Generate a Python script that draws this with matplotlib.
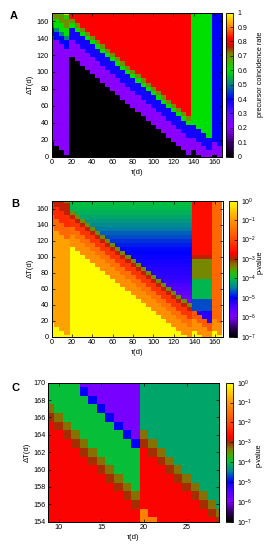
import numpy as np
import matplotlib
matplotlib.use('Agg')
import matplotlib.pyplot as plt
from matplotlib.colors import LinearSegmentedColormap, Normalize

plt.rcParams['font.family'] = ['Liberation Sans', 'DejaVu Sans']
plt.rcParams['mathtext.fontset'] = 'custom'
plt.rcParams['mathtext.rm'] = 'Liberation Sans'
plt.rcParams['mathtext.it'] = 'Liberation Sans:italic'
plt.rcParams['font.size'] = 5.2

# ---------------- data ----------------
# grid of panels A and B (cell centres, days)
tau_AB = list(range(0, 170, 5))
dT_AB = list(range(0, 175, 5))
# column groups (tau values)
grp_L = [0, 5, 10, 15]
grp_M = list(range(20, 140, 5))
grp_G = [140, 145, 150, 155]
grp_B = [160, 165]

# Panel A: precursor coincidence rate along diagonals s = tau + dT
A_L_diag = [15, 140, 150, 155, 165, 175, 180, 999]
A_L_rate = [0.0, 0.20, 0.40, 0.50, 0.60, 0.70, 0.62, 0.95]
A_M_diag = [135, 155, 170, 175, 180, 999]
A_M_rate = [0.0, 0.20, 0.38, 0.60, 0.70, 0.82]
A_M_top_rate = 0.76
A_G_diag = [145, 160, 175, 999]
A_G_rate = [0.0, 0.20, 0.38, 0.60]
A_B_diag = [160, 175, 999]
A_B_rate = [0.0, 0.20, 0.40]

# Panel B: log10 p-value along diagonals; above last diagonal -> by dT row
B_L_diag = [15, 135, 150, 165, 180, 999]
B_L_logp = [-0.05, -0.9, -1.6, -2.3, -2.9, -3.4]
B_M_diag = [130, 145, 155, 165, 170, 175]
B_M_logp = [-0.05, -1.1, -1.5, -2.2, -2.9, -3.4]
B_M_upper_logp = [-6.3, -6.3, -6.3, -6.3, -6.3, -6.3, -6.3, -6.3,
                  -6.1, -5.9, -5.75, -5.65, -5.55, -5.45, -5.35, -5.3,
                  -5.25, -5.2, -5.15, -5.1, -5.05, -5.0, -4.95, -4.88,
                  -4.8, -4.7, -4.6, -4.5, -4.4, -4.3, -4.2, -4.12,
                  -4.05, -4.0, -3.95]
B_G_diag = [145, 160, 170]
B_G_logp = [-0.05, -1.1, -1.8]
B_G_upper_logp = [-5.5, -5.5, -5.5, -5.5, -5.2, -5.2, -5.2, -4.7,
                  -4.7, -4.7, -4.05, -4.05, -4.05, -4.05, -4.05, -3.4,
                  -3.4, -3.4, -3.4, -3.4, -2.9, -2.6, -2.6, -2.6,
                  -2.6, -2.6, -2.6, -2.6, -2.6, -2.6, -2.6, -2.6,
                  -2.6, -2.6, -2.6]
B_B_diag = [165, 180, 999]
B_B_logp = [-0.05, -1.1, -1.6]

# Panel C: zoomed region (1-day cells)
tau_C = list(range(9, 30))
dT_C = list(range(154, 171))
C_split_tau = 20
C_purple_from_tau = 13
C_left_diag = [174, 175, 176, 181, 182]
C_left_logp = [-2.75, -3.0, -3.3, -3.95, -5.0]
C_left_upper_logp = -5.9
C_left_green_logp = -3.95
C_right_diag = [182, 183, 184]
C_right_logp = [-2.75, -3.0, -3.3]
C_right_upper_logp = -4.2
C_orange_cells = [(20, 154), (20, 155), (21, 154)]
C_orange_logp = -1.3

cbar_A_ticks = [0, 0.1, 0.2, 0.3, 0.4, 0.5, 0.6, 0.7, 0.8, 0.9, 1]
cbar_P_ticks = [-7, -6, -5, -4, -3, -2, -1, 0]

# ---------------- colormaps ----------------
cmap_A = LinearSegmentedColormap.from_list('rateA', [
    (0.00, '#000000'), (0.10, '#3a0070'), (0.20, '#8a00ff'), (0.30, '#5a10ff'),
    (0.40, '#0000ff'), (0.50, '#00808a'), (0.60, '#00e000'), (0.68, '#60a000'),
    (0.72, '#808000'), (0.76, '#b02000'), (0.82, '#ff0000'), (0.90, '#ff8000'),
    (1.00, '#ffff00')])
cmap_P = LinearSegmentedColormap.from_list('pval', [
    (0.000, '#000000'), (0.070, '#300060'), (0.143, '#8000ff'), (0.215, '#5000ff'),
    (0.286, '#0000ff'), (0.360, '#0080a0'), (0.430, '#00c040'), (0.480, '#40b000'),
    (0.520, '#808000'), (0.571, '#a03000'), (0.610, '#ff0000'), (0.714, '#ff4800'),
    (0.857, '#ff9500'), (1.000, '#ffff00')])


def band(diag, vals, s):
    for d, v in zip(diag, vals):
        if s <= d:
            return v
    return None


def build_A():
    Z = np.zeros((len(dT_AB), len(tau_AB)))
    for j, dt in enumerate(dT_AB):
        for i, t in enumerate(tau_AB):
            s = t + dt
            if t in grp_L:
                v = band(A_L_diag, A_L_rate, s)
            elif t in grp_M:
                v = A_M_top_rate if dt == dT_AB[-1] else band(A_M_diag, A_M_rate, s)
            elif t in grp_G:
                v = band(A_G_diag, A_G_rate, s)
            else:
                v = band(A_B_diag, A_B_rate, s)
            Z[j, i] = v
    return Z


def build_B():
    Z = np.zeros((len(dT_AB), len(tau_AB)))
    for j, dt in enumerate(dT_AB):
        for i, t in enumerate(tau_AB):
            s = t + dt
            if t in grp_L:
                v = band(B_L_diag, B_L_logp, s)
            elif t in grp_M:
                v = band(B_M_diag, B_M_logp, s)
                if v is None:
                    v = B_M_upper_logp[j]
            elif t in grp_G:
                v = band(B_G_diag, B_G_logp, s)
                if v is None:
                    v = B_G_upper_logp[j]
            else:
                v = band(B_B_diag, B_B_logp, s)
            Z[j, i] = v
    return Z


def build_C():
    Z = np.zeros((len(dT_C), len(tau_C)))
    for j, dt in enumerate(dT_C):
        for i, t in enumerate(tau_C):
            s = t + dt
            if t < C_split_tau:
                v = band(C_left_diag, C_left_logp, s)
                if v is None:
                    v = C_left_upper_logp if t >= C_purple_from_tau else C_left_green_logp
                elif s > C_left_diag[2] and t < C_purple_from_tau:
                    v = C_left_green_logp
            else:
                v = band(C_right_diag, C_right_logp, s)
                if v is None:
                    v = C_right_upper_logp
            if (t, dt) in C_orange_cells:
                v = C_orange_logp
            Z[j, i] = v
    return Z


def edges(c):
    c = np.asarray(c, float)
    h = (c[1] - c[0]) / 2.0
    return np.append(c - h, c[-1] + h)


W, H = 270.0, 550.0


def rect(l, r, t, b):
    return [l / W, 1 - b / H, (r - l) / W, (b - t) / H]


fig = plt.figure(figsize=(2.7, 5.5), dpi=100)

panels = [
    dict(name='A', Z=build_A(), x=tau_AB, y=dT_AB, cmap=cmap_A, norm=Normalize(0, 1),
         ax=rect(51.7, 221.7, 12.7, 156.7), cax=rect(226, 233.3, 12.7, 156.7),
         xlim=(0, 167.5), ylim=(0, 170), xt=list(range(0, 161, 20)), yt=list(range(0, 161, 20)),
         lab='precursor coincidence rate', labx=4.3, laby=0.57, letter=(10, 16)),
    dict(name='B', Z=build_B(), x=tau_AB, y=dT_AB, cmap=cmap_P, norm=Normalize(-7, 0),
         ax=rect(51.7, 222.7, 200.7, 336.7), cax=rect(229.3, 236.7, 200.7, 336.7),
         xlim=(0, 168), ylim=(0, 170), xt=list(range(0, 161, 20)), yt=list(range(0, 161, 20)),
         lab='p-value', labx=3.7, laby=0.55, letter=(11, 204)),
    dict(name='C', Z=build_C(), x=tau_C, y=dT_C, cmap=cmap_P, norm=Normalize(-7, 0),
         ax=rect(48.3, 219, 382.7, 521.7), cax=rect(226, 233.3, 382.7, 521.7),
         xlim=(8.8, 28.8), ylim=(154, 170), xt=[10, 15, 20, 25], yt=list(range(154, 171, 2)),
         lab='p-value', labx=4.1, laby=0.48, letter=(11.5, 388)),
]

for p in panels:
    ax = fig.add_axes(p['ax'])
    m = ax.pcolormesh(edges(p['x']), edges(p['y']), p['Z'], cmap=p['cmap'], norm=p['norm'],
                      shading='flat', rasterized=True)
    ax.set_xlim(*p['xlim'])
    ax.set_ylim(*p['ylim'])
    ax.set_xticks(p['xt'])
    ax.set_yticks(p['yt'])
    ax.tick_params(direction='in', length=2, width=0.5, top=True, right=True, pad=2,
                   labelsize=5.2)
    for sp in ax.spines.values():
        sp.set_linewidth(0.7)
    ax.set_xlabel('τ(d)', fontsize=5.5, labelpad=2)
    ax.set_ylabel('ΔT(d)', fontsize=5.5, labelpad=2)
    fig.text(p['letter'][0] / W, 1 - p['letter'][1] / H, p['name'], fontsize=8,
             fontweight='bold', ha='left', va='center')

    cax = fig.add_axes(p['cax'])
    cb = fig.colorbar(m, cax=cax)
    cb.outline.set_linewidth(0.6)
    if p['name'] == 'A':
        cb.set_ticks(cbar_A_ticks)
        cb.set_ticklabels([('%g' % v) for v in cbar_A_ticks])
    else:
        cb.set_ticks(cbar_P_ticks)
        cb.set_ticklabels([r'10$^{%d}$' % v for v in cbar_P_ticks])
    cax.tick_params(direction='in', length=2, width=0.5, labelsize=5, pad=3)
    cax.set_ylabel(p['lab'], fontsize=5.2, rotation=90)
    cax.yaxis.set_label_coords(p['labx'], p['laby'])

fig.savefig('out.png', dpi=100)
